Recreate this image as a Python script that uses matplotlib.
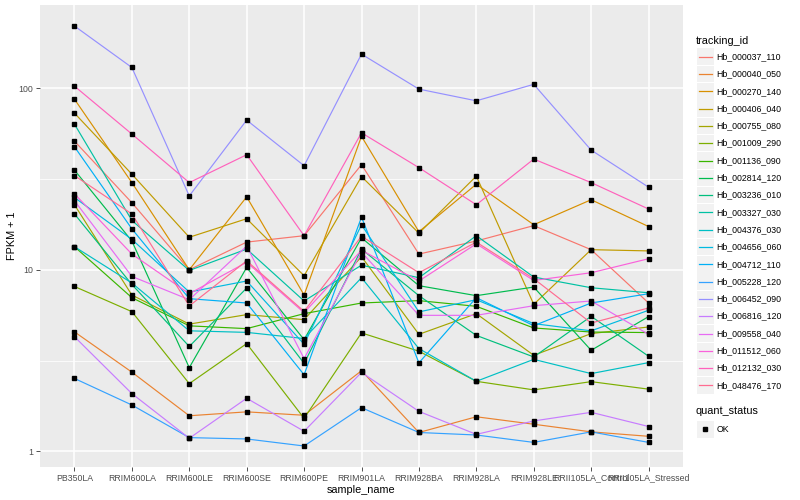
import numpy as np
import matplotlib
matplotlib.use("Agg")
import matplotlib.pyplot as plt
from matplotlib.patches import Rectangle
from matplotlib.lines import Line2D

plt.rcParams['font.family'] = ['Liberation Sans', 'DejaVu Sans']

samples = ["PB350LA", "RRIM600LA", "RRIM600LE", "RRIM600SE", "RRIM600PE",
           "RRIM901LA", "RRIM928BA", "RRIM928LA", "RRIM928LE",
           "RRII105LA_Control", "RRII105LA_Stressed"]

tracking_ids = ["Hb_000037_110", "Hb_000040_050", "Hb_000270_140", "Hb_000406_040",
                "Hb_000755_080", "Hb_001009_290", "Hb_001136_090", "Hb_002814_120",
                "Hb_003236_010", "Hb_003327_030", "Hb_004376_030", "Hb_004656_060",
                "Hb_004712_110", "Hb_005228_120", "Hb_006452_090", "Hb_006816_120",
                "Hb_009558_040", "Hb_011512_060", "Hb_012132_030", "Hb_048476_170"]

colors = ["#F8766D", "#EA8331", "#D89000", "#C09B00", "#A3A500", "#7CAE00",
          "#39B600", "#00BB4E", "#00BF7D", "#00C1A3", "#00BFC4", "#00BAE0",
          "#00B0F6", "#35A2FF", "#9590FF", "#C77CFF", "#E76BF3", "#FA62DB",
          "#FF62BC", "#FF6C91"]

# FPKM + 1 per sample, one list per gene
Hb_000037_110 = [51.1, 23.4, 10.0, 14.2, 15.4, 37.9, 12.2, 14.4, 17.5, 12.9, 6.56]
Hb_000040_050 = [4.55, 2.73, 1.57, 1.65, 1.58, 2.78, 1.27, 1.55, 1.41, 1.28, 1.21]
Hb_000270_140 = [87.0, 30.2, 10.0, 25.2, 7.26, 54.3, 16.2, 29.6, 17.7, 24.3, 17.3]
Hb_000406_040 = [72.9, 33.6, 15.1, 19.1, 9.27, 32.6, 15.9, 32.8, 6.45, 12.9, 12.7]
Hb_000755_080 = [22.8, 7.26, 5.02, 5.66, 5.31, 11.8, 4.41, 5.73, 3.38, 4.45, 4.84]
Hb_001009_290 = [8.09, 5.88, 2.36, 3.92, 1.52, 4.49, 3.56, 2.43, 2.18, 2.42, 2.20]
Hb_001136_090 = [13.4, 7.02, 4.91, 4.74, 5.73, 6.56, 6.76, 6.29, 4.78, 4.54, 4.51]
Hb_002814_120 = [35.4, 14.4, 2.89, 10.3, 4.12, 15.0, 8.17, 7.20, 8.03, 3.60, 5.52]
Hb_003236_010 = [20.3, 8.30, 3.78, 7.93, 3.05, 13.0, 7.20, 4.35, 3.31, 5.54, 3.34]
Hb_003327_030 = [63.4, 18.7, 9.91, 13.0, 6.73, 10.6, 9.04, 15.4, 9.12, 7.96, 7.47]
Hb_004376_030 = [13.4, 8.45, 4.61, 4.52, 4.18, 9.04, 3.68, 2.43, 3.21, 2.68, 3.08]
Hb_004656_060 = [25.0, 14.7, 7.54, 8.67, 3.89, 17.7, 5.86, 6.84, 5.05, 4.61, 5.98]
Hb_004712_110 = [47.6, 16.8, 6.93, 6.56, 2.64, 19.5, 3.07, 7.02, 4.92, 6.56, 7.38]
Hb_005228_120 = [2.52, 1.80, 1.19, 1.17, 1.07, 1.74, 1.27, 1.23, 1.12, 1.28, 1.12]
Hb_006452_090 = [220.0, 130.0, 25.5, 66.7, 37.4, 154.0, 98.8, 85.2, 105.0, 45.6, 28.5]
Hb_006816_120 = [4.28, 2.08, 1.18, 1.96, 1.29, 2.72, 1.66, 1.24, 1.47, 1.64, 1.37]
Hb_009558_040 = [24.0, 9.19, 6.84, 13.5, 3.24, 12.5, 5.61, 5.61, 6.34, 6.73, 4.41]
Hb_011512_060 = [26.2, 12.2, 7.38, 11.0, 5.80, 12.8, 8.67, 13.9, 8.73, 9.63, 11.5]
Hb_012132_030 = [102.6, 55.9, 30.2, 43.0, 15.4, 56.8, 36.5, 22.8, 40.7, 30.2, 21.6]
Hb_048476_170 = [33.0, 20.3, 6.32, 11.2, 5.90, 15.3, 9.63, 14.2, 8.93, 5.09, 6.16]

series = [Hb_000037_110, Hb_000040_050, Hb_000270_140, Hb_000406_040, Hb_000755_080,
          Hb_001009_290, Hb_001136_090, Hb_002814_120, Hb_003236_010, Hb_003327_030,
          Hb_004376_030, Hb_004656_060, Hb_004712_110, Hb_005228_120, Hb_006452_090,
          Hb_006816_120, Hb_009558_040, Hb_011512_060, Hb_012132_030, Hb_048476_170]

W, H = 800, 500
fig = plt.figure(figsize=(W / 100, H / 100), dpi=100)

def fx(px):
    return px / W

def fy(py):
    return 1 - py / H

left, right, top, bottom = 40, 683, 5, 467
ax = fig.add_axes([fx(left), fy(bottom), fx(right - left), (bottom - top) / H])
ax.set_facecolor('#EBEBEB')
for s in ax.spines.values():
    s.set_visible(False)

x = np.arange(len(samples))
for vals, c in zip(series, colors):
    ax.plot(x, vals, color=c, lw=0.85, zorder=2, solid_capstyle='butt')
for vals in series:
    ax.plot(x, vals, linestyle='none', marker='s', markersize=2.4,
            color='black', zorder=3)

ax.set_yscale('log')
allv = np.log10(np.concatenate([np.asarray(v) for v in series]))
lo, hi = allv.min(), allv.max()
pad = 0.05 * (hi - lo)
ax.set_ylim(10 ** (lo - pad), 10 ** (hi + pad))
ax.set_xlim(-0.6, len(samples) - 0.4)

ax.set_yticks([1, 10, 100])
ax.set_yticklabels(["1", "10", "100"])
ax.set_yticks([10 ** 0.5, 10 ** 1.5], minor=True)
ax.set_yticklabels([], minor=True)
ax.set_xticks(x)
ax.set_xticklabels(samples)
ax.tick_params(axis='both', which='major', length=2.8, width=0.6, color='#333333',
               labelsize=6.3, labelcolor='#4D4D4D', pad=2)
ax.tick_params(axis='both', which='minor', length=0)
ax.grid(which='major', color='white', lw=1.1)
ax.grid(which='minor', axis='y', color='white', lw=0.55)
ax.set_axisbelow(True)

ax.set_xlabel("sample_name", fontsize=7.8, color='black', labelpad=2)
ax.set_ylabel("FPKM + 1", fontsize=7.8, color='black', labelpad=1)

# legend: tracking_id
fig.text(fx(696), fy(40.5), "tracking_id", fontsize=7.8, va='center', ha='left')
key_w, key_h = 16.5, 16.5
for i, (tid, c) in enumerate(zip(tracking_ids, colors)):
    yc = 56.7 + 17.3 * i
    fig.patches.append(Rectangle((fx(697), fy(yc + key_h / 2)), key_w / W, key_h / H,
                                 transform=fig.transFigure, facecolor='#F2F2F2',
                                 edgecolor='none'))
    fig.lines.append(Line2D([fx(699), fx(711.5)], [fy(yc), fy(yc)],
                            transform=fig.transFigure, color=c, lw=0.9))
    fig.text(fx(716.5), fy(yc), tid, fontsize=6.3, va='center', ha='left')

# legend: quant_status
fig.text(fx(696), fy(411.5), "quant_status", fontsize=7.8, va='center', ha='left')
yc = 429.3
fig.patches.append(Rectangle((fx(697), fy(yc + key_h / 2)), key_w / W, key_h / H,
                             transform=fig.transFigure, facecolor='#F2F2F2',
                             edgecolor='none'))
fig.lines.append(Line2D([fx(705.2)], [fy(yc)], transform=fig.transFigure,
                        marker='s', markersize=2.4, color='black', linestyle='none'))
fig.text(fx(716.5), fy(yc), "OK", fontsize=6.3, va='center', ha='left')

fig.savefig("out.png", dpi=100)
